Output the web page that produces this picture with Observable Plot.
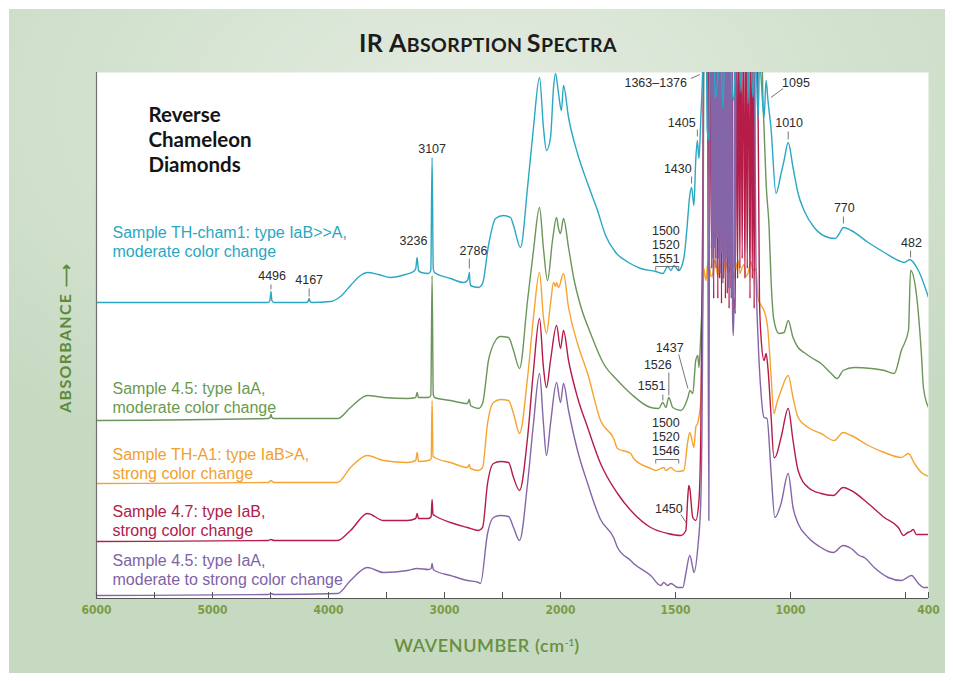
<!DOCTYPE html>
<html><head><meta charset="utf-8">
<script src="https://cdn.jsdelivr.net/npm/d3@7"></script>
<script src="https://cdn.jsdelivr.net/npm/@observablehq/plot@0.6"></script>
<style>
html,body{margin:0;padding:0;background:#fff;}
#page{position:relative;width:953px;height:681px;overflow:hidden;background:#fff;}
#panel{position:absolute;left:9px;top:9px;width:936px;height:664px;
  background:radial-gradient(ellipse 70% 60% at 50% 15%, #e3ebe0 0%, #d5e3d1 50%, #c6dac2 100%);}
#title{position:absolute;left:0;width:976px;top:27px;line-height:30px;text-align:center;
  font-family:Lato,"Open Sans",sans-serif;font-weight:700;color:#1c1c1c;letter-spacing:0.4px;}
#title .big{font-size:25px;}
#title .sm{font-size:19.5px;}
#chart{position:absolute;left:0;top:60px;}
#xlabel{position:absolute;left:487px;top:645px;transform:translate(-50%,-50%);white-space:nowrap;
  font-family:Lato,"Open Sans",sans-serif;font-weight:600;font-size:18px;letter-spacing:0.6px;color:#6a8f3d;}
#ylabel{position:absolute;left:65px;top:338px;transform:translate(-50%,-50%) rotate(-90deg);white-space:nowrap;
  font-family:Lato,"Open Sans",sans-serif;font-weight:700;font-size:16px;letter-spacing:1.3px;color:#5f8a3a;}
</style></head>
<body><div id="page"><div id="panel"></div>
<div id="title"><span class="big">IR A</span><span class="sm">BSORPTION</span> <span class="big">S</span><span class="sm">PECTRA</span></div>
<div id="chart"></div>
<div id="xlabel">WAVENUMBER (cm<sup style="font-size:10px;vertical-align:6px;letter-spacing:0">-1</sup>)</div>
<div id="ylabel">ABSORBANCE ⟶</div>
</div>
<script>
// wavenumber (cm-1), absorbance (arbitrary units, offset spectra)
const thCham1 = [[6000,296],[4700,296],[4520,296],[4505,298],[4496,307],[4488,298],[4470,296],[4190,296],[4176,297],[4167,300],[4158,297],[4140,296],[3983,297],[3897,302],[3810,313],[3724,323],[3664,326],[3569,324],[3466,321],[3336,324],[3267,327],[3248,330],[3236,341],[3224,328],[3200,326],[3138,325],[3118,328],[3107,441],[3097,330],[3086,326],[2948,320],[2836,316],[2802,318],[2792,322],[2786,326],[2780,316],[2776,313],[2707,311],[2672,315],[2621,353],[2560,380],[2491,383],[2431,381],[2405,373],[2345,351],[2284,411],[2233,471],[2181,521],[2147,471],[2121,448],[2086,461],[2060,511],[2043,525],[2017,505],[1996,488],[1987,513],[1965,481],[1926,445],[1882,415],[1839,388],[1804,363],[1760,346],[1704,336],[1651,330],[1586,327],[1555,325],[1534,332],[1520,328],[1507,333],[1486,328],[1464,340],[1451,368],[1438,403],[1430,411],[1420,393],[1412,438],[1405,458],[1398,440],[1390,480],[1381,540],[1377,600],[1368,600],[1362,470],[1355,458],[1350,560],[1337,600],[1328,500],[1316,520],[1305,560],[1294,490],[1285,560],[1268,600],[1255,510],[1246,498],[1238,560],[1228,600],[1215,506],[1208,560],[1202,540],[1192,600],[1185,495],[1178,560],[1172,540],[1163,501],[1156,560],[1150,540],[1141,481],[1134,540],[1128,521],[1115,481],[1106,518],[1098,498],[1085,471],[1063,405],[1041,425],[1028,438],[1010,456],[989,431],[967,405],[941,388],[897,371],[836,361],[805,360],[790,364],[770,371],[736,368],[662,356],[592,346],[531,338],[505,336],[482,339],[444,328],[400,301]];
const s45moderate = [[6000,178],[4520,180],[4505,181],[4496,184],[4488,181],[4470,180],[3922,180],[3810,191],[3664,203],[3526,201],[3319,200],[3248,201],[3236,206],[3224,201],[3138,201],[3118,203],[3107,323],[3097,204],[3086,201],[2948,198],[2802,195],[2786,199],[2776,193],[2707,190],[2672,195],[2621,238],[2560,258],[2517,262],[2448,261],[2405,248],[2353,230],[2284,298],[2233,348],[2181,391],[2147,350],[2112,318],[2069,358],[2034,381],[2017,370],[2000,365],[1987,380],[1965,351],[1943,321],[1913,293],[1869,265],[1813,235],[1752,218],[1695,205],[1608,191],[1573,190],[1555,196],[1542,191],[1529,201],[1512,191],[1477,188],[1446,201],[1437,208],[1425,205],[1412,238],[1403,243],[1398,231],[1390,265],[1381,330],[1375,600],[1300,600],[1128,600],[1120,500],[1115,470],[1106,415],[1093,371],[1085,321],[1072,278],[1050,265],[1028,266],[1010,278],[989,261],[967,251],[941,246],[910,241],[867,235],[823,225],[797,220],[771,228],[723,231],[649,230],[592,228],[549,225],[518,248],[487,268],[478,328],[453,305],[431,245],[422,211],[400,191]];
const thA1 = [[6000,115],[4520,116],[4496,118],[4470,116],[3922,116],[3810,131],[3664,143],[3526,138],[3319,136],[3248,138],[3236,146],[3224,137],[3138,138],[3115,140],[3107,198],[3099,142],[3086,141],[2948,136],[2802,131],[2786,134],[2776,130],[2707,128],[2672,131],[2629,175],[2578,196],[2517,199],[2448,198],[2405,185],[2353,165],[2284,221],[2233,281],[2181,326],[2147,281],[2121,265],[2086,295],[2060,316],[2043,312],[2034,316],[2017,311],[1987,325],[1965,291],[1926,255],[1882,225],[1826,178],[1769,160],[1752,150],[1695,145],[1682,140],[1608,130],[1586,128],[1551,131],[1542,128],[1520,131],[1505,128],[1490,127],[1464,128],[1446,158],[1438,166],[1425,155],[1420,151],[1412,171],[1403,176],[1390,198],[1381,300],[1377,330],[1368,318],[1360,335],[1355,338],[1346,322],[1337,325],[1330,338],[1324,335],[1316,322],[1308,336],[1303,332],[1294,320],[1286,334],[1281,336],[1268,326],[1259,333],[1250,322],[1246,320],[1237,330],[1228,338],[1220,325],[1215,328],[1202,334],[1193,322],[1185,325],[1172,337],[1163,328],[1150,330],[1141,300],[1128,293],[1115,288],[1098,268],[1085,225],[1072,185],[1060,195],[1041,208],[1010,223],[989,201],[967,181],[923,171],[867,165],[810,158],[771,166],[736,163],[662,153],[592,146],[518,141],[487,145],[461,135],[431,126],[400,122]];
const s47 = [[6000,57],[4520,58],[4496,59],[4470,58],[3922,58],[3810,68],[3664,85],[3526,78],[3319,78],[3248,80],[3236,85],[3224,80],[3138,80],[3115,82],[3107,99],[3099,84],[3086,83],[2948,76],[2802,71],[2707,68],[2672,71],[2629,115],[2578,135],[2517,137],[2448,136],[2405,121],[2353,108],[2284,161],[2233,228],[2181,280],[2147,231],[2121,211],[2086,238],[2034,273],[2000,250],[1987,268],[1965,238],[1926,201],[1882,171],[1826,135],[1752,105],[1682,85],[1608,71],[1534,65],[1477,63],[1455,68],[1447,100],[1442,113],[1438,110],[1425,81],[1412,78],[1398,98],[1390,165],[1381,400],[1377,600],[1370,600],[1360,600],[1352,350],[1348,600],[1342,330],[1338,600],[1334,300],[1330,600],[1325,340],[1320,600],[1316,300],[1312,600],[1308,320],[1304,600],[1300,295],[1296,600],[1291,320],[1287,600],[1283,300],[1279,600],[1275,305],[1271,600],[1267,290],[1263,600],[1259,310],[1255,600],[1250,290],[1246,300],[1240,285],[1236,600],[1230,320],[1226,600],[1220,330],[1216,600],[1210,340],[1205,600],[1198,320],[1194,600],[1188,330],[1183,600],[1176,300],[1172,600],[1166,320],[1162,600],[1158,290],[1154,600],[1145,600],[1135,300],[1128,261],[1115,238],[1106,245],[1098,230],[1085,185],[1072,141],[1068,141],[1041,161],[1010,190],[989,158],[967,128],[923,111],[867,105],[814,103],[771,111],[736,108],[662,95],[592,81],[531,71],[509,63],[490,66],[478,67],[466,69],[453,64],[400,64]];
const s45strong = [[6000,3],[4520,4],[4496,5],[4470,4],[3922,5],[3810,18],[3664,31],[3526,26],[3319,28],[3236,30],[3138,29],[3115,30],[3107,35],[3099,30],[3086,28],[2948,23],[2802,18],[2707,16],[2690,15],[2629,65],[2578,81],[2517,83],[2448,82],[2405,71],[2353,58],[2284,115],[2233,175],[2181,225],[2147,175],[2121,143],[2086,175],[2034,216],[2000,196],[1987,215],[1965,188],[1926,148],[1882,115],[1826,79],[1769,61],[1752,51],[1695,38],[1682,35],[1608,23],[1564,13],[1551,16],[1534,13],[1520,15],[1490,11],[1468,11],[1455,25],[1438,43],[1425,31],[1420,26],[1403,51],[1390,98],[1381,300],[1377,600],[1368,600],[1362,560],[1355,78],[1351,560],[1346,600],[1342,340],[1339,600],[1336,320],[1333,600],[1330,350],[1327,600],[1324,330],[1321,600],[1318,360],[1315,600],[1312,340],[1309,600],[1306,325],[1303,600],[1300,345],[1297,600],[1294,315],[1291,600],[1288,335],[1285,600],[1282,320],[1279,600],[1276,340],[1273,600],[1270,310],[1267,600],[1264,330],[1261,600],[1258,300],[1255,560],[1252,285],[1249,263],[1246,290],[1243,600],[1240,330],[1236,600],[1225,600],[1215,520],[1205,600],[1160,600],[1150,330],[1141,260],[1128,205],[1115,181],[1102,180],[1085,128],[1068,81],[1041,95],[1010,125],[989,91],[967,75],[923,61],[867,51],[814,46],[771,53],[736,50],[701,43],[679,41],[636,31],[575,21],[518,18],[474,23],[444,15],[422,11],[400,11]];

// drawing order: first is drawn at the back
const seriesNames = ["4.5 moderate","TH-A1","4.7","4.5 strong","TH-cham1"];
const seriesColors = ["#6b955a","#f5a431","#b51c48","#8466a8","#2aa7c3"];
const seriesData = [s45moderate, thA1, s47, s45strong, thCham1];

const sampleLabels = ["Sample TH-cham1: type IaB>>A,\nmoderate color change","Sample 4.5: type IaA,\nmoderate color change","Sample TH-A1: type IaB>A,\nstrong color change","Sample 4.7: type IaB,\nstrong color change","Sample 4.5: type IaA,\nmoderate to strong color change"];
const sampleLabelLevels = [357, 201, 135, 78, 29];
const sampleLabelColors = ["#2aa7c3","#6b9a4e","#f0a030","#b0204a","#7f62a6"];

const peakLabels = ["4496","4167","3236","3107","2786","1363–1376","1095","1405","1430","1500\n1520\n1551","1010","770","482","1437","1526","1551","1500\n1520\n1546","1450"];
const peakLabelW = [4486,4167,3267,3107,2750,1586,976,1473,1490,1542,1006,766,474,1525,1577,1604,1542,1529];
const peakLabelA = [323,319,358,450,348,516,516,476,430,354,476,391,356,251,234,213,162,90];
const leaders = [[4496,314,4496,309],[4167,310,4167,302],[2786,340,2786,330],[1433,520,1394,524],[1032,510,1085,501],[1405,469,1405,462],[1430,422,1430,415],[1010,467,1010,459],[770,382,770,375],[478,348,478,341],[1486,244,1446,210],[1529,226,1529,203],[1555,204,1555,198],[1477,84,1451,75]];
const brackets = [[1586,1486,332],[1586,1486,139]];

const xTicks = [6000,5500,5000,4500,4000,3500,3000,2500,2000,1500,1000,500,400];
const xTickLabels = [6000,5000,4000,3000,2000,1500,1000,400];

const rows = seriesData.flatMap((d, i) => d.map(([w, a]) => ({w, a, id: seriesNames[i]})));
const leaderRows = leaders.map(([w1,a1,w2,a2]) => ({w1,a1,w2,a2}));
const bracketRows = brackets.flatMap(([w1,w2,a]) => [
  {w1, a1:a, w2, a2:a}, {w1, a1:a, w2:w1, a2:a-4}, {w1:w2, a1:a, w2, a2:a-4}]);
const peakRows = peakLabels.map((t,i) => ({t, w: peakLabelW[i], a: peakLabelA[i]}));
const sampleRows = sampleLabels.map((t,i) => ({t, a: sampleLabelLevels[i], c: sampleLabelColors[i]}));

const numFont = "'Liberation Sans', Arial, Helvetica, sans-serif";
const chart = Plot.plot({
  width: 953, height: 612,
  marginLeft: 96, marginRight: 25, marginTop: 12, marginBottom: 74,
  style: {background: "transparent", overflow: "visible"},
  x: {type: "linear", domain: [6000, 2000, 400], range: [96, 560, 928], axis: null},
  y: {domain: [0, 526], range: [538, 12], axis: null},
  color: {domain: seriesNames, range: seriesColors},
  marks: [
    Plot.frame({fill: "white", stroke: "none"}),
    Plot.line(rows, {x: "w", y: "a", z: "id", stroke: "id", strokeWidth: 1.4, clip: true, curve: "monotone-x"}),
    Plot.ruleX([6000], {stroke: "#707070", strokeWidth: 1.2}),
    Plot.ruleY([0], {stroke: "#555", strokeWidth: 1.2}),
    Plot.ruleX(xTicks, {x: d => d, y1: 0, y2: 6, stroke: "#555", strokeWidth: 1}),
    Plot.text(xTickLabels, {x: d => d, text: d => String(d), frameAnchor: "bottom", dy: 15, fill: "#7d9c45",
      fontWeight: "bold", fontSize: 12, fontFamily: "'DejaVu Sans Condensed', 'Liberation Sans Narrow', Roboto, sans-serif"}),
    Plot.link(leaderRows, {x1: "w1", y1: "a1", x2: "w2", y2: "a2", stroke: "#666", strokeWidth: 0.9}),
    Plot.link(bracketRows, {x1: "w1", y1: "a1", x2: "w2", y2: "a2", stroke: "#666", strokeWidth: 0.9}),
    Plot.text(peakRows, {x: "w", y: "a", text: "t", fill: "#2b2b2b", fontSize: 12.5, lineHeight: 1.1,
      fontFamily: numFont}),
    Plot.text(sampleRows, {y: "a", text: "t", fill: "c", frameAnchor: "left", dx: 16, textAnchor: "start",
      fontSize: 16, lineHeight: 1.15, fontFamily: numFont}),
    Plot.text(["Reverse\nChameleon\nDiamonds"], {text: d => d, frameAnchor: "top-left", dx: 52, dy: 66,
      lineAnchor: "middle", textAnchor: "start", fontSize: 20.5, lineHeight: 1.22, fontWeight: "bold",
      fill: "#141414", fontFamily: "Lato, 'Open Sans', sans-serif"})
  ]
});
document.getElementById("chart").appendChild(chart);
</script>
</body></html>
